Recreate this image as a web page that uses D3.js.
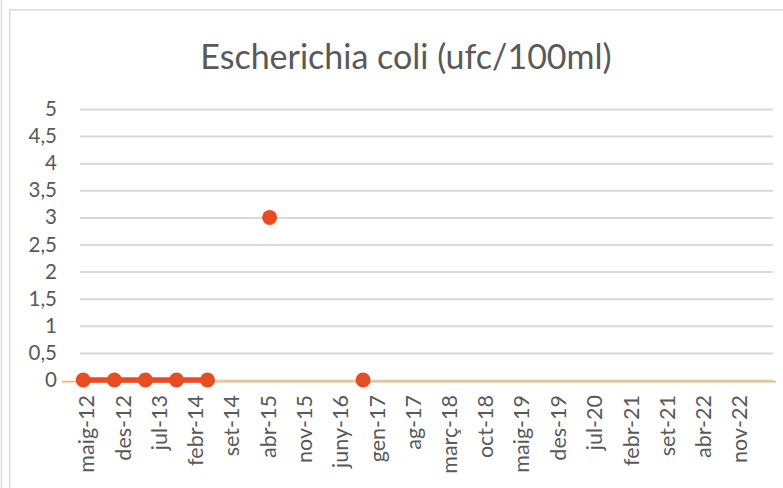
<!DOCTYPE html>
<html>
<head>
<meta charset="utf-8">
<script src="https://cdn.jsdelivr.net/npm/d3@7/dist/d3.min.js"></script>
<style>
  html, body { margin: 0; padding: 0; background: #ffffff; }
  svg { display: block; }
  text { font-family: Lato, "Open Sans", sans-serif; fill: #595959; }
</style>
</head>
<body>
<svg id="chart" width="783" height="488"></svg>
<script>
// E. coli samples (ufc/100ml); null = no sample that half-year
const chartTitle = "Escherichia coli (ufc/100ml)";
const sampleDates = ["2012-04-15", "2012-10-15", "2013-04-15", "2013-10-15", "2014-04-15",
                     "2014-10-15", "2015-04-15", "2015-10-15", "2016-04-15", "2016-10-15"];
const ecoliValues = [0, 0, 0, 0, 0, null, 3, null, null, 0];

// axis ticks
const yTickValues = [0, 0.5, 1, 1.5, 2, 2.5, 3, 3.5, 4, 4.5, 5];
const yTickLabels = ["0", "0,5", "1", "1,5", "2", "2,5", "3", "3,5", "4", "4,5", "5"];
const xTickDates = ["2012-05-01", "2012-12-01", "2013-07-01", "2014-02-01", "2014-09-01",
                    "2015-04-01", "2015-11-01", "2016-06-01", "2017-01-01", "2017-08-01",
                    "2018-03-01", "2018-10-01", "2019-05-01", "2019-12-01", "2020-07-01",
                    "2021-02-01", "2021-09-01", "2022-04-01", "2022-11-01"];
const xTickLabels = ["maig-12", "des-12", "jul-13", "febr-14", "set-14", "abr-15", "nov-15",
                     "juny-16", "gen-17", "ag-17", "març-18", "oct-18", "maig-19", "des-19",
                     "jul-20", "febr-21", "set-21", "abr-22", "nov-22"];
const xDomain = ["2012-03-27", "2023-05-20"];

const parse = d3.utcParse("%Y-%m-%d");
const svg = d3.select("#chart");

const plot = { left: 80, right: 773, top: 109, bottom: 380 };

const x = d3.scaleUtc().domain(xDomain.map(parse)).range([plot.left, plot.right]);
const y = d3.scaleLinear().domain([0, 5]).range([plot.bottom, plot.top]);

// outer frame
svg.append("line").attr("x1", 1.5).attr("x2", 1.5).attr("y1", 0).attr("y2", 488)
  .attr("stroke", "#d9d9d9").attr("stroke-width", 1.5);
svg.append("path").attr("d", "M9.75,488V9.75H783")
  .attr("fill", "none").attr("stroke", "#d9d9d9").attr("stroke-width", 1.5);

// title
svg.append("text").attr("x", 406).attr("y", 69)
  .attr("text-anchor", "middle").attr("font-size", 34)
  .text(chartTitle);

// horizontal gridlines + y labels
const yAxis = d3.axisLeft(y).tickValues(yTickValues)
  .tickFormat((d, i) => yTickLabels[i])
  .tickSize(-(plot.right - plot.left)).tickPadding(23);
const gy = svg.append("g").attr("transform", `translate(${plot.left},0)`).call(yAxis);
gy.select(".domain").remove();
gy.selectAll(".tick line").attr("stroke", "#d9d9d9").attr("stroke-width", 2);
gy.selectAll(".tick text").attr("font-size", 20.5).attr("font-family", "Lato, sans-serif")
  .style("fill", "#595959");

// zero baseline
svg.append("line")
  .attr("x1", 62).attr("x2", 776)
  .attr("y1", y(0) + 1.5).attr("y2", y(0) + 1.5)
  .attr("stroke", "#f6b96a").attr("stroke-width", 1.75);

// x labels
const xAxis = d3.axisBottom(x).tickValues(xTickDates.map(parse))
  .tickFormat((d, i) => xTickLabels[i]).tickSize(0);
const gx = svg.append("g").attr("transform", `translate(0,${plot.bottom})`).call(xAxis);
gx.select(".domain").remove();
gx.selectAll(".tick text")
  .attr("font-size", 21.5).attr("font-family", "Lato, sans-serif").style("fill", "#595959")
  .attr("text-anchor", "end")
  .attr("transform", "rotate(-90)")
  .attr("x", -15).attr("y", 0).attr("dy", "0.36em");

// series
const data = sampleDates.map((d, i) => ({ date: parse(d), value: ecoliValues[i] }));
const line = d3.line().defined(d => d.value !== null)
  .x(d => x(d.date)).y(d => y(d.value));
const red = "#e84c22";
svg.append("path").datum(data).attr("d", line)
  .attr("fill", "none").attr("stroke", red).attr("stroke-width", 5.5);
svg.append("g").selectAll("circle").data(data.filter(d => d.value !== null))
  .join("circle")
  .attr("cx", d => x(d.date)).attr("cy", d => y(d.value)).attr("r", 7.5)
  .attr("fill", red);
</script>
</body>
</html>
